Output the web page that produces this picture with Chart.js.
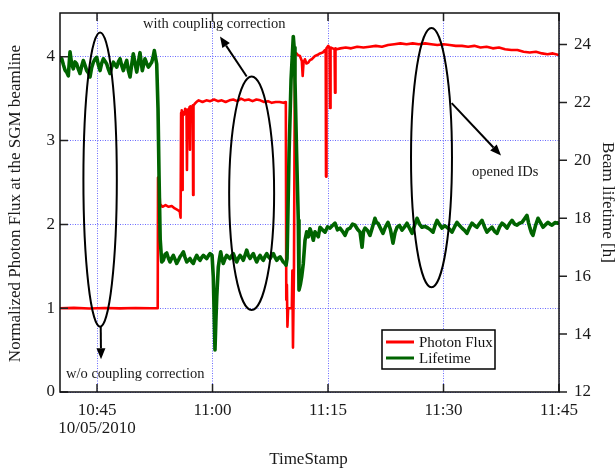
<!DOCTYPE html>
<html>
<head>
<meta charset="utf-8">
<script src="https://cdn.jsdelivr.net/npm/chart.js@4.4.0/dist/chart.umd.min.js"></script>
<style>
  html, body { margin: 0; padding: 0; background: #fff; }
  canvas { display: block; }
</style>
</head>
<body>
<canvas id="chart" width="615" height="469"></canvas>
<script>
// time is minutes after 10:00
const xTickValues = [45, 60, 75, 90, 105];
const xTickLabels = [['10:45', '10/05/2010'], '11:00', '11:15', '11:30', '11:45'];
const fluxTicks = [0, 1, 2, 3, 4];
const lifeTicks = [12, 14, 16, 18, 20, 22, 24];
const seriesNames = ['Photon Flux', 'Lifetime'];

// [minute, normalized flux]
const photonFlux = [
  [40.19,1.0],[42,1.004],[44,0.997],[46,1.003],[48,0.998],[50,1.003],[52,0.999],[52.88,1.0],
  [52.92,2.56],[53.1,2.4],[53.18,2.24],[53.5,2.21],[53.9,2.23],[54.3,2.21],[54.7,2.22],[55.1,2.19],
  [55.5,2.17],[55.75,2.15],[55.85,2.08],
  [55.92,3.33],[56.0,3.36],[56.05,2.41],[56.12,3.34],[56.3,3.31],[56.45,3.38],[56.62,3.36],[56.68,2.65],
  [56.75,3.37],[56.9,3.34],[57.02,3.40],[57.07,2.89],[57.13,3.41],[57.3,3.39],[57.44,3.42],[57.48,2.35],
  [57.53,3.42],[57.7,3.44],[57.9,3.46],[58.2,3.48],
  [58.7,3.46],[59.2,3.48],[59.7,3.47],[60.2,3.49],[60.7,3.47],[61.2,3.48],[61.7,3.46],[62.2,3.48],
  [62.7,3.49],[63.2,3.47],[63.7,3.50],[64.2,3.48],[64.7,3.49],[65.2,3.47],[65.7,3.49],[66.2,3.48],
  [66.7,3.46],[67.2,3.47],[67.7,3.45],[68.2,3.46],[68.7,3.46],[69.2,3.45],[69.52,3.46],
  [69.58,1.10],[69.66,1.28],[69.73,0.78],[69.82,1.0],[70.3,1.0],[70.37,1.45],[70.45,0.53],[70.58,1.5],
  [70.7,4.05],[70.9,4.04],[71.1,4.02],[71.35,4.01],[71.6,3.95],[71.71,3.77],[71.82,3.93],[72.0,3.97],
  [72.2,3.92],[72.44,3.93],[72.65,3.96],[72.88,3.97],[73.1,3.99],[73.31,4.01],[73.6,4.02],[73.96,4.04],
  [74.3,4.05],[74.6,4.08],[74.7,4.07],[74.74,2.57],[74.8,4.1],[75.04,4.13],[75.2,4.1],[75.26,3.39],
  [75.33,4.11],[75.6,4.1],[75.85,4.09],[75.91,3.57],[75.97,4.1],[76.13,4.09],
  [76.6,4.1],[77.3,4.11],[78,4.1],[78.8,4.12],[79.6,4.11],[80.4,4.12],[81.2,4.13],[82,4.12],
  [82.8,4.14],[83.6,4.15],[84.4,4.16],[85.2,4.15],[86,4.16],[86.8,4.15],[87.6,4.16],[88.4,4.15],
  [89.2,4.14],[90,4.15],[90.8,4.14],[91.6,4.13],[92.4,4.13],[93.2,4.12],[94,4.13],[94.8,4.11],
  [95.6,4.12],[96.4,4.10],[97.2,4.11],[98,4.09],[98.8,4.08],[99.6,4.08],[100.4,4.06],[101.2,4.05],
  [102,4.06],[102.8,4.04],[103.5,4.03],[104.2,4.04],[105,4.02]
];

// [minute, beam lifetime in h]
const lifetime = [
  [40.19,23.40],[40.42,23.51],[40.63,23.30],[40.84,23.12],[41.05,23.05],[41.27,22.92],[41.49,23.75],
  [41.7,23.35],[41.92,23.16],[42.14,23.40],[42.36,23.33],[42.57,23.15],[42.79,23.00],[43.0,23.25],
  [43.22,23.45],[43.44,23.28],[43.66,23.10],[43.88,23.02],[44.09,22.88],[44.3,23.20],[44.52,23.39],
  [44.74,23.50],[44.96,23.56],[45.17,23.30],[45.39,23.10],[45.6,23.35],[45.82,23.51],[46.04,23.42],
  [46.26,23.33],[46.47,23.15],[46.69,23.00],[46.9,23.22],[47.12,23.39],[47.34,23.30],[47.56,23.22],
  [47.77,23.40],[47.99,23.51],[48.2,23.28],[48.42,23.10],[48.64,23.30],[48.86,23.45],[49.07,23.10],
  [49.29,22.88],[49.5,23.30],[49.71,23.68],[49.94,23.35],[50.16,23.05],[50.37,23.40],[50.58,23.72],
  [50.73,23.40],[50.88,23.10],[51.05,23.30],[51.23,23.51],[51.45,23.35],[51.66,23.22],[51.88,23.30],
  [52.10,23.39],[52.27,23.55],[52.44,23.79],[52.6,23.55],[52.75,23.33],[52.92,21.8],[53.05,19.5],
  [53.2,17.3],[53.40,16.49],
  [53.61,16.55],[53.83,16.75],[54.05,16.80],[54.27,16.62],[54.48,16.49],[54.7,16.62],[54.91,16.72],
  [55.13,16.58],[55.35,16.44],[55.57,16.55],[55.78,16.67],[56.0,16.75],[56.21,16.84],[56.43,16.65],
  [56.65,16.49],[56.87,16.55],[57.08,16.61],[57.3,16.50],[57.51,16.44],[57.73,16.60],[57.95,16.72],
  [58.16,16.62],[58.38,16.55],[58.6,16.65],[58.81,16.72],[59.03,16.66],[59.25,16.61],[59.46,16.70],
  [59.68,16.78],[59.94,16.72],[60.10,15.98],[60.22,14.6],[60.32,13.45],[60.43,14.4],[60.55,15.29],
  [60.75,16.32],[60.9,16.6],[61.06,16.84],[61.23,16.60],[61.40,16.44],[61.62,16.60],[61.84,16.72],
  [62.05,16.66],[62.27,16.61],[62.48,16.70],[62.70,16.78],[62.92,16.62],[63.14,16.49],[63.35,16.62],
  [63.57,16.72],[63.78,16.65],[64.00,16.55],[64.22,16.72],[64.44,16.90],[64.65,16.72],[64.87,16.61],
  [65.08,16.70],[65.30,16.78],[65.52,16.62],[65.74,16.49],[65.95,16.62],[66.17,16.72],[66.38,16.62],
  [66.60,16.55],[66.82,16.68],[67.04,16.78],[67.25,16.68],[67.47,16.61],[67.68,16.70],[67.90,16.78],
  [68.12,16.65],[68.34,16.55],[68.55,16.62],[68.77,16.67],[68.98,16.58],[69.19,16.49],[69.4,16.44],
  [69.55,16.38],
  [69.68,16.6],[69.94,20.24],[70.2,22.8],[70.49,24.28],[70.6,23.9],[70.71,22.76],[70.92,20.24],
  [71.14,17.93],[71.23,15.52],
  [71.4,15.7],[71.58,15.98],[71.79,16.44],[72.01,17.24],[72.23,17.53],[72.44,17.36],[72.66,17.64],
  [72.88,17.47],[73.09,17.24],[73.31,17.53],[73.52,17.45],[73.74,17.36],[73.96,17.69],[74.28,17.60],
  [74.61,17.52],[74.93,17.70],[75.26,17.66],[75.58,17.75],[75.91,17.83],[76.23,17.60],[76.56,17.66],
  [76.88,17.55],[77.21,17.41],[77.53,17.62],[77.86,17.66],[78.18,17.80],[78.51,17.76],[78.83,17.62],
  [79.16,17.52],[79.42,17.00],[79.61,17.55],[79.81,17.66],[80.13,17.58],[80.45,17.41],[80.78,17.70],
  [81.10,18.00],[81.3,17.85],[81.49,17.83],[81.82,17.65],[82.14,17.48],[82.46,17.70],[82.79,17.86],
  [83.1,17.62],[83.44,17.14],[83.7,17.50],[83.96,17.69],[84.29,17.75],[84.61,17.59],[84.94,17.70],
  [85.26,17.83],[85.58,17.66],[85.91,17.48],[86.23,17.75],[86.56,18.00],[86.88,17.80],[87.21,17.69],
  [87.6,17.72],[87.99,17.66],[88.32,17.60],[88.64,17.52],[88.9,17.75],[89.16,17.93],[89.49,17.78],
  [89.81,17.66],[90.13,17.74],[90.45,17.69],[90.78,17.62],[91.10,17.52],[91.43,17.70],[91.75,17.86],
  [92.08,17.75],[92.40,17.66],[92.73,17.58],[93.05,17.48],[93.38,17.68],[93.70,17.83],[94.03,17.75],
  [94.35,17.69],[94.68,17.82],[95.00,17.93],[95.33,17.70],[95.65,17.52],[95.98,17.62],[96.30,17.69],
  [96.63,17.55],[96.95,17.48],[97.28,17.70],[97.60,17.83],[97.93,17.76],[98.25,17.66],[98.58,17.82],
  [98.90,17.93],[99.23,17.80],[99.55,17.76],[99.87,17.83],[100.19,17.86],[100.52,17.98],[100.84,18.10],
  [101.04,17.85],[101.23,17.66],[101.42,17.50],[101.62,17.41],[101.95,17.75],[102.27,18.00],[102.6,17.85],
  [102.92,17.69],[103.25,17.78],[103.57,17.86],[103.83,17.80],[104.09,17.76],[104.48,17.85],[104.87,17.83],
  [105,17.88]
];

// annotations, in (minute, flux) units
const ellipses = [[45.4, 2.535, 2.17, 1.755], [65.08, 2.372, 2.92, 1.393], [88.44, 2.797, 2.66, 1.547]];
const arrows = [[45.48, 0.78, 45.52, 0.39], [64.44, 3.765, 60.97, 4.242], [91.06, 3.447, 97.47, 2.822]];
const notes = [
  { text: 'with coupling correction', t: 50.97, v: 4.346 },
  { text: 'w/o coupling correction', t: 40.97, v: 0.167 },
  { text: 'opened IDs', t: 93.7, v: 2.579 }
];

const serif = "'Liberation Serif', 'Times New Roman', serif";
const gridColor = 'rgba(80,80,255,0.85)';

const fixSize = (w, h) => (s) => {
  if (w) s.width = w;
  if (h) s.height = h;
  s.paddingTop = 0; s.paddingBottom = 0; s.paddingLeft = 0; s.paddingRight = 0;
};

const decor = {
  id: 'decor',
  afterDraw(chart) {
    const ctx = chart.ctx, a = chart.chartArea;
    const sx = chart.scales.x, sy = chart.scales.y, s2 = chart.scales.y2;
    ctx.save();

    // tick marks: inside on left/top/bottom, outside on the right
    ctx.strokeStyle = '#222';
    ctx.lineWidth = 1.5;
    ctx.beginPath();
    fluxTicks.forEach(v => {
      const p = sy.getPixelForValue(v);
      ctx.moveTo(a.left, p); ctx.lineTo(a.left + 8, p);
    });
    xTickValues.forEach(v => {
      const p = sx.getPixelForValue(v);
      ctx.moveTo(p, a.bottom); ctx.lineTo(p, a.bottom - 8);
      ctx.moveTo(p, a.top); ctx.lineTo(p, a.top + 8);
    });
    lifeTicks.forEach(v => {
      const p = s2.getPixelForValue(v);
      ctx.moveTo(a.right, p); ctx.lineTo(a.right + 8, p);
    });
    ctx.stroke();

    ctx.strokeStyle = '#111';
    ctx.strokeRect(a.left, a.top, a.right - a.left, a.bottom - a.top);

    // ellipses + arrows
    ctx.strokeStyle = '#000';
    ctx.fillStyle = '#000';
    ctx.lineWidth = 2;
    ellipses.forEach(([t, v, dt, dv]) => {
      const cx = sx.getPixelForValue(t), cy = sy.getPixelForValue(v);
      const rx = sx.getPixelForValue(t + dt) - cx, ry = cy - sy.getPixelForValue(v + dv);
      ctx.beginPath();
      ctx.ellipse(cx, cy, rx, ry, 0, 0, Math.PI * 2);
      ctx.stroke();
    });
    arrows.forEach(([t0, v0, t1, v1]) => {
      const x0 = sx.getPixelForValue(t0), y0 = sy.getPixelForValue(v0);
      const x1 = sx.getPixelForValue(t1), y1 = sy.getPixelForValue(v1);
      const ang = Math.atan2(y1 - y0, x1 - x0);
      const hl = 11, hw = 4.5;
      const bx = x1 - hl * Math.cos(ang), by = y1 - hl * Math.sin(ang);
      ctx.beginPath();
      ctx.moveTo(x0, y0); ctx.lineTo(bx, by);
      ctx.stroke();
      ctx.beginPath();
      ctx.moveTo(x1, y1);
      ctx.lineTo(bx + hw * Math.sin(ang), by - hw * Math.cos(ang));
      ctx.lineTo(bx - hw * Math.sin(ang), by + hw * Math.cos(ang));
      ctx.closePath();
      ctx.fill();
    });

    ctx.font = '14.5px ' + serif;
    ctx.fillStyle = '#1a1a1a';
    ctx.textAlign = 'left';
    ctx.textBaseline = 'alphabetic';
    notes.forEach(n => ctx.fillText(n.text, sx.getPixelForValue(n.t), sy.getPixelForValue(n.v)));

    // legend box
    const lx = a.left + 322, ly = a.top + 317;
    ctx.fillStyle = '#fff';
    ctx.fillRect(lx, ly, 113, 39);
    ctx.strokeStyle = '#000';
    ctx.lineWidth = 1.5;
    ctx.strokeRect(lx, ly, 113, 39);
    chart.data.datasets.forEach((ds, i) => {
      const yy = ly + 12 + i * 16;
      ctx.strokeStyle = ds.borderColor;
      ctx.lineWidth = 3;
      ctx.beginPath();
      ctx.moveTo(lx + 4, yy); ctx.lineTo(lx + 32, yy);
      ctx.stroke();
      ctx.fillStyle = '#111';
      ctx.font = '15px ' + serif;
      ctx.fillText(ds.label, lx + 37, yy + 4.5);
    });

    // axis titles
    ctx.fillStyle = '#1a1a1a';
    ctx.font = '17px ' + serif;
    ctx.textAlign = 'center';
    ctx.textBaseline = 'middle';
    const midY = (a.top + a.bottom) / 2;
    ctx.save();
    ctx.translate(16, midY + 1);
    ctx.rotate(-Math.PI / 2);
    ctx.fillText('Normalized Photon Flux at the SGM beamline', 0, 0);
    ctx.restore();
    ctx.save();
    ctx.translate(607, midY);
    ctx.rotate(Math.PI / 2);
    ctx.fillText('Beam lifetime [h]', 0, 0);
    ctx.restore();
    ctx.fillText('TimeStamp', (a.left + a.right) / 2 - 1, 460);

    ctx.restore();
  }
};

new Chart(document.getElementById('chart'), {
  type: 'line',
  data: {
    datasets: [
      {
        label: seriesNames[0],
        data: photonFlux,
        yAxisID: 'y',
        borderColor: '#ff0000',
        borderWidth: 2.6,
        borderJoinStyle: 'round',
        pointRadius: 0,
        tension: 0,
        order: 1
      },
      {
        label: seriesNames[1],
        data: lifetime,
        yAxisID: 'y2',
        borderColor: '#006400',
        borderWidth: 3.6,
        borderJoinStyle: 'round',
        pointRadius: 0,
        tension: 0,
        order: 0
      }
    ]
  },
  options: {
    responsive: false,
    animation: false,
    layout: { padding: { top: 13, left: 0, right: 0, bottom: 0 } },
    plugins: { legend: { display: false }, tooltip: { enabled: false } },
    scales: {
      x: {
        type: 'linear',
        min: 40.19,
        max: 105,
        afterBuildTicks: s => { s.ticks = xTickValues.map(v => ({ value: v })); },
        afterFit: fixSize(0, 77),
        grid: { color: gridColor, lineWidth: 1, drawTicks: false },
        border: { display: false, dash: [1, 1.5] },
        ticks: {
          callback: (v, i) => xTickLabels[i],
          autoSkip: false,
          maxRotation: 0,
          padding: 10,
          color: '#1a1a1a',
          font: { family: serif, size: 17, lineHeight: 1.05 }
        }
      },
      y: {
        position: 'left',
        min: 0,
        max: 4.522,
        afterBuildTicks: s => { s.ticks = fluxTicks.map(v => ({ value: v })); },
        afterFit: fixSize(60, 0),
        grid: { color: gridColor, lineWidth: 1, drawTicks: false },
        border: { display: false, dash: [1, 1.5] },
        ticks: { padding: 5, color: '#1a1a1a', font: { family: serif, size: 17 } }
      },
      y2: {
        position: 'right',
        min: 12,
        max: 25.09,
        afterBuildTicks: s => { s.ticks = lifeTicks.map(v => ({ value: v })); },
        afterFit: fixSize(56, 0),
        grid: { drawOnChartArea: false, drawTicks: false },
        border: { display: false },
        ticks: { padding: 15, color: '#1a1a1a', font: { family: serif, size: 17 } }
      }
    }
  },
  plugins: [decor]
});
</script>
</body>
</html>
